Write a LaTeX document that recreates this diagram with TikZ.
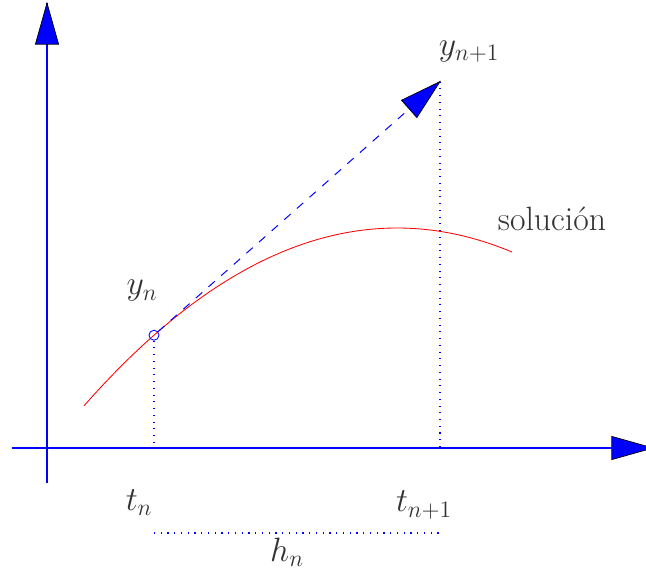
\RequirePackage{fix-cm}
\documentclass[tikz,border=0pt]{standalone}
\usetikzlibrary{calc}

\definecolor{axisblue}{rgb}{0,0,1}
\definecolor{solred}{rgb}{1,0,0}

% filled blue arrow head with black rim: #1 = tip, #2 = point it comes from
\newcommand{\bluetip}[2]{%
  \draw[draw=black, fill=axisblue, line width=0.5pt, line join=miter]
    (#1) -- ($(#1)!1.03cm!(#2)!0.29cm!90:(#1)$)
         -- ($(#1)!1.03cm!(#2)!0.29cm!-90:(#1)$) -- cycle;}

\begin{document}
\begin{tikzpicture}[
  axis/.style={draw=axisblue, line width=0.8pt},
  guide/.style={draw=axisblue, line width=0.8pt, dash pattern=on 0.8pt off 4pt},
  step line/.style={draw=axisblue, line width=0.7pt, dash pattern=on 6pt off 6pt},
  lbl/.style={font=\fontsize{24}{28}\selectfont, text=black!80},
]
  \useasboundingbox (-1.175,-3.075) rectangle (14.975,11.2);

  % axes
  \coordinate (xstart) at (-0.875,0);
  \coordinate (xend) at (15.15,0);
  \coordinate (ystart) at (0,-0.875);
  \coordinate (yend) at (0,11.125);
  \draw[axis] (ystart) -- (yend);
  \draw[axis] (xstart) -- (xend);
  \bluetip{xend}{xstart}
  \bluetip{yend}{ystart}

  % exact solution
  \draw[draw=solred, line width=0.6pt, domain=0.925:11.625, samples=80] plot (\x, {5.5-0.0726*(\x-8.75)^2});
  \node[lbl] (sol) at (12.625,5.725) {soluci\'on};

  % Euler step
  \node[draw=axisblue, circle, inner sep=0pt, minimum size=0.25cm, line width=0.6pt] (yn) at (2.675,2.82) {};
  \coordinate (ynext) at (9.825,9.16);
  \draw[step line] (yn) -- (ynext);
  \bluetip{ynext}{yn}

  \coordinate (tn) at (2.675,0);
  \coordinate (tnext) at (9.825,0);
  \coordinate (hleft) at (2.675,-2.125);
  \coordinate (hright) at (9.825,-2.125);
  \draw[guide] (hleft) -- (hright);
  \draw[guide] (yn) -- (tn);
  \draw[guide] (ynext) -- (tnext);

  % labels
  \node[lbl] (ynlbl) at (2.375,3.925) {$y_n$};
  \node[lbl] (ynextlbl) at (10.55,9.9) {$y_{n+1}$};
  \node[lbl] (tnlbl) at (2.3,-1.375) {$t_n$};
  \node[lbl] (tnextlbl) at (9.425,-1.425) {$t_{n+1}$};
  \node[lbl] (hnlbl) at (6.0,-2.6) {$h_n$};
\end{tikzpicture}
\end{document}
